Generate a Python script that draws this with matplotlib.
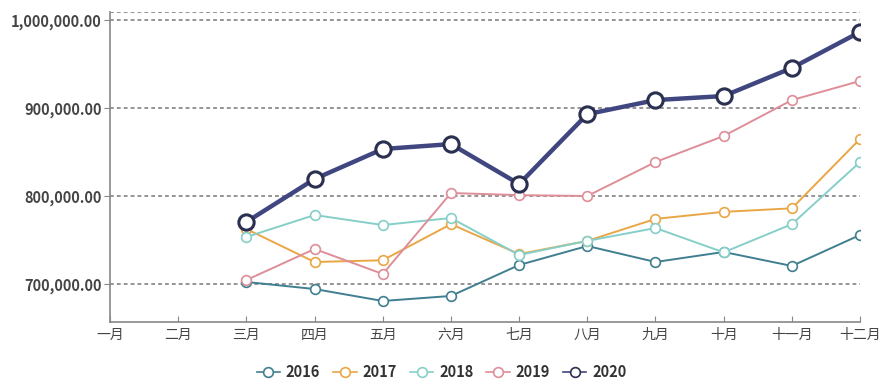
import matplotlib.pyplot as plt
from matplotlib.ticker import FuncFormatter

plt.rcParams['font.family'] = ['Noto Sans CJK SC', 'DejaVu Sans']

months = ["一月", "二月", "三月", "四月", "五月", "六月",
          "七月", "八月", "九月", "十月", "十一月", "十二月"]
# 数据从三月开始
start = 2
y2016 = [702300, 694300, 680700, 686400, 721600, 743200, 725000, 736400, 720500, 755700]
y2017 = [762500, 725000, 727000, 768000, 734000, 749000, 774000, 782000, 786000, 864800]
y2018 = [753400, 778400, 767000, 775000, 733000, 749000, 763600, 736000, 768000, 838600]
y2019 = [704500, 739800, 711400, 803400, 801000, 800000, 838600, 868200, 909000, 930700]
y2020 = [770500, 819300, 853400, 859000, 813600, 893000, 909000, 913600, 945500, 986400]

series = [
    ("2016", y2016, "#3f7f90"),
    ("2017", y2017, "#e9a645"),
    ("2018", y2018, "#86cfc8"),
    ("2019", y2019, "#de8e98"),
]

fig = plt.figure(figsize=(8.83, 3.85), dpi=100)
ax = fig.add_axes([0.1246, 0.1636, 0.974 - 0.1246, 0.9688 - 0.1636])

x = list(range(start, start + len(y2016)))
for name, vals, c in series:
    ax.plot(x, vals, color=c, lw=1.4, marker="o", ms=7, mfc="white",
            mec=c, mew=1.2, label=name, zorder=3)
ax.plot(x, y2020, color="#40467f", lw=3.2, marker="o", ms=11, mfc="white",
        mec="#2b2f50", mew=2.2, label="2020", zorder=4)

ax.set_xlim(0, 11)
ax.set_ylim(656800, 1009100)
ax.set_xticks(range(12))
ax.set_xticklabels(months)
ax.set_yticks([700000, 800000, 900000, 1000000])
ax.yaxis.set_major_formatter(FuncFormatter(lambda v, p: f"{v:,.2f}"))

for v in [700000, 800000, 900000, 1000000, 1009100]:
    ax.axhline(v, color="#777777", lw=1.1, ls=(0, (2.5, 2)), zorder=1)

for s in ["top", "right"]:
    ax.spines[s].set_visible(False)
for s in ["left", "bottom"]:
    ax.spines[s].set_color("#888888")
    ax.spines[s].set_linewidth(1.2)

ax.tick_params(axis="y", length=4, color="#888888", labelsize=10.5, labelcolor="#444444", pad=2)
ax.tick_params(axis="x", direction="in", length=4, color="#888888", labelsize=10, labelcolor="#444444", pad=4)
for t in ax.get_yticklabels():
    t.set_fontweight("bold")

leg = fig.legend(loc="center", bbox_to_anchor=(0.5, 0.034), ncol=5, frameon=False,
                 prop={"weight": "bold", "size": 10.5}, handlelength=1.6,
                 columnspacing=0.9, handletextpad=0.4, markerscale=1.0)
for h in leg.legend_handles:
    h.set_markersize(7)
    h.set_linewidth(1.2)
    h.set_markeredgewidth(1.2)
for t in leg.get_texts():
    t.set_color("#333333")

fig.savefig("out.png", dpi=100)
